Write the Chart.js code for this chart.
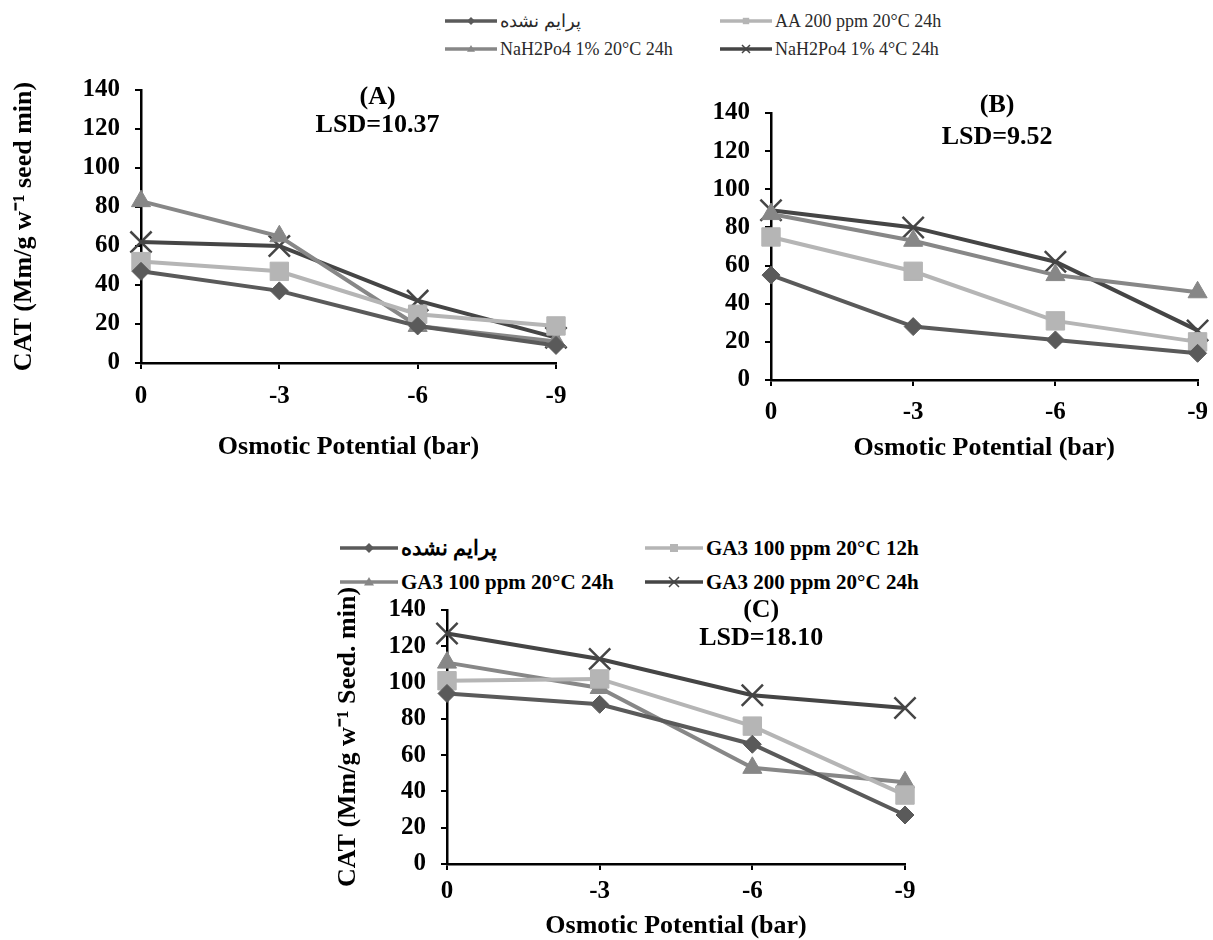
<!DOCTYPE html>
<html>
<head>
<meta charset="utf-8">
<title>CAT - Osmotic Potential</title>
<script src="https://cdn.jsdelivr.net/npm/chart.js@4.4.1/dist/chart.umd.min.js"></script>
<style>
  html, body { margin: 0; padding: 0; background: #fff; width: 1213px; height: 940px; overflow: hidden; }
  canvas { position: absolute; }
  .item { position: absolute; display: flex; align-items: center; white-space: nowrap; height: 24px; }
  .item svg { display: block; }
  .legTop { font: 18px "Liberation Serif", serif; color: #2a2a2a; }
  .legC { font: bold 21px "Liberation Serif", serif; color: #000; }
</style>
</head>
<body>
<div id="legendTop"></div>
<div id="legendC"></div>
<canvas id="chartA" width="600" height="410" style="left:0;top:60px"></canvas>
<canvas id="chartB" width="600" height="410" style="left:620px;top:60px"></canvas>
<canvas id="chartC" width="640" height="365" style="left:300px;top:580px"></canvas>
<script>
// Categories (osmotic potential, bar)
const potentials = ["0", "-3", "-6", "-9"];

// Series names
const namesAB = ["پرایم نشده", "AA 200 ppm 20°C 24h", "NaH2Po4 1% 20°C 24h", "NaH2Po4 1% 4°C 24h"];
const namesC = ["پرایم نشده", "GA3 100 ppm 20°C 12h", "GA3 100 ppm 20°C 24h", "GA3 200 ppm 20°C 24h"];

// Panel A
const unprimedA = [47, 37, 19, 9];
const aaA = [52, 47, 25, 19];
const nah20A = [83, 65, 19, 11];
const nah4A = [62, 60, 32, 13];

// Panel B
const unprimedB = [55, 28, 21, 14];
const aaB = [75, 57, 31, 20];
const nah20B = [87, 73, 55, 46];
const nah4B = [89, 80, 62, 26];

// Panel C
const unprimedC = [94, 88, 66, 27];
const ga100_12C = [101, 102, 76, 38];
const ga100_24C = [111, 97, 53, 45];
const ga200_24C = [127, 113, 93, 86];

// Panel labels
const textA = ["(A)", "LSD=10.37"];
const textB = ["(B)", "LSD=9.52"];
const textC = ["(C)", "LSD=18.10"];
const yTitleA = "CAT (Mm/g w⁻¹ seed min)";
const yTitleC = "CAT (Mm/g w⁻¹ Seed. min)";
const xTitle = "Osmotic Potential (bar)";

// styles per series index
const colors = ["#5a5a5a", "#b5b5b5", "#878787", "#454545"];
const markers = ["rectRot", "rect", "triangle", "crossRot"];
const markerSize = [9, 13, 11, 15];

Chart.defaults.font.family = '"Liberation Serif", "Times New Roman", serif';
Chart.defaults.color = "#000";

// draws "(A)" / "LSD=..." inside the plot
const panelText = {
  id: "panelText",
  afterDraw(chart, args, opts) {
    const { ctx, chartArea } = chart;
    ctx.save();
    ctx.font = 'bold 26px "Liberation Serif", serif';
    ctx.fillStyle = "#000";
    ctx.textAlign = "center";
    ctx.textBaseline = "middle";
    const x = chartArea.left + opts.fx * (chartArea.right - chartArea.left);
    opts.lines.forEach((t, i) => ctx.fillText(t, x, chartArea.top + opts.dy[i]));
    ctx.restore();
  },
};

function makePanel(id, names, series, cfg) {
  return new Chart(document.getElementById(id), {
    type: "line",
    data: {
      labels: potentials,
      datasets: series.map((vals, i) => ({
        label: names[i],
        data: vals,
        borderColor: colors[i],
        backgroundColor: colors[i],
        borderWidth: 4,
        pointStyle: markers[i],
        pointRadius: markerSize[i],
        pointBackgroundColor: colors[i],
        pointBorderColor: colors[i],
        pointBorderWidth: i === 3 ? 2.5 : 1,
        tension: 0,
        clip: false,
      })),
    },
    options: {
      responsive: false,
      animation: false,
      layout: { padding: cfg.padding },
      plugins: {
        legend: { display: false },
        tooltip: { enabled: false },
        panelText: { lines: cfg.text, fx: cfg.fx, dy: cfg.dy },
      },
      scales: {
        x: {
          offset: false,
          grid: { display: true, drawOnChartArea: false, drawTicks: true, tickLength: 6, color: "#000", lineWidth: 2 },
          border: { color: "#000", width: 2.5 },
          ticks: { font: { size: 25, weight: "bold" }, padding: cfg.xPad, maxRotation: 0 },
          title: { display: true, text: xTitle, font: { size: 26, weight: "bold" }, padding: 0 },
          afterFit: (s) => { s.height = cfg.xHeight; },
        },
        y: {
          min: 0,
          max: 140,
          grid: { display: true, drawOnChartArea: false, drawTicks: true, tickLength: 6, color: "#000", lineWidth: 2 },
          border: { color: "#000", width: 2.5 },
          ticks: { stepSize: 20, font: { size: 25, weight: "bold" }, padding: 15 },
          title: {
            display: !!cfg.yTitle,
            text: cfg.yTitle,
            font: { size: 26, weight: "bold" },
            padding: { top: cfg.yTitlePad, bottom: 0 },
          },
          afterFit: (s) => { s.width = cfg.yWidth; },
        },
      },
    },
    plugins: [panelText],
  });
}

// Gráfico A
makePanel("chartA", namesAB, [unprimedA, aaA, nah20A, nah4A], {
  padding: { top: 25, right: 44, bottom: 7, left: 0 },
  yWidth: 141, xHeight: 100, xPad: 13,
  yTitle: yTitleA, yTitlePad: 9,
  text: textA, fx: 0.57, dy: [7, 35],
});

// Gráfico B
makePanel("chartB", namesAB, [unprimedB, aaB, nah20B, nah4B], {
  padding: { top: 53, right: 19, bottom: 6, left: 0 },
  yWidth: 151, xHeight: 84, xPad: 12,
  yTitle: "", yTitlePad: 0,
  text: textB, fx: 0.53, dy: [-8, 24],
});

// Gráfico C
makePanel("chartC", namesC, [unprimedC, ga100_12C, ga100_24C, ga200_24C], {
  padding: { top: 30, right: 35, bottom: 3, left: 0 },
  yWidth: 147, xHeight: 78, xPad: 7,
  yTitle: yTitleC, yTitlePad: 33,
  text: textC, fx: 0.686, dy: [0, 28],
});

// HTML legends (line + marker, two columns)
function symbol(i, w, r, lw) {
  const h = 2 * r + 4, m = h / 2, c = w / 2, col = colors[i];
  let mark;
  if (markers[i] === "rectRot") {
    mark = `<polygon points="${c},${m - r} ${c + r},${m} ${c},${m + r} ${c - r},${m}" fill="${col}"/>`;
  } else if (markers[i] === "rect") {
    mark = `<rect x="${c - r * 0.8}" y="${m - r * 0.8}" width="${r * 1.6}" height="${r * 1.6}" fill="${col}"/>`;
  } else if (markers[i] === "triangle") {
    mark = `<polygon points="${c},${m - r} ${c + r},${m + r * 0.7} ${c - r},${m + r * 0.7}" fill="${col}"/>`;
  } else {
    mark = `<path d="M${c - r},${m - r}L${c + r},${m + r}M${c + r},${m - r}L${c - r},${m + r}" stroke="${col}" stroke-width="1.5"/>`;
  }
  return `<svg width="${w}" height="${h}"><line x1="0" y1="${m}" x2="${w}" y2="${m}" stroke="${col}" stroke-width="${lw}"/>${mark}</svg>`;
}

function buildLegend(elId, names, cls, cols, rows, w, r, lw) {
  const el = document.getElementById(elId);
  names.forEach((name, i) => {
    const item = document.createElement("div");
    item.className = "item " + cls;
    item.style.left = cols[i % 2] + "px";
    item.style.top = rows[Math.floor(i / 2)] - 12 + "px";
    item.innerHTML = symbol(i, w, r, lw) + `<span style="margin-left:3px">${name}</span>`;
    el.appendChild(item);
  });
}

buildLegend("legendTop", namesAB, "legTop", [445, 720], [21, 49], 52, 4, 3.5);
buildLegend("legendC", namesC, "legC", [340, 645], [548, 582], 58, 5, 3.5);
</script>
</body>
</html>
